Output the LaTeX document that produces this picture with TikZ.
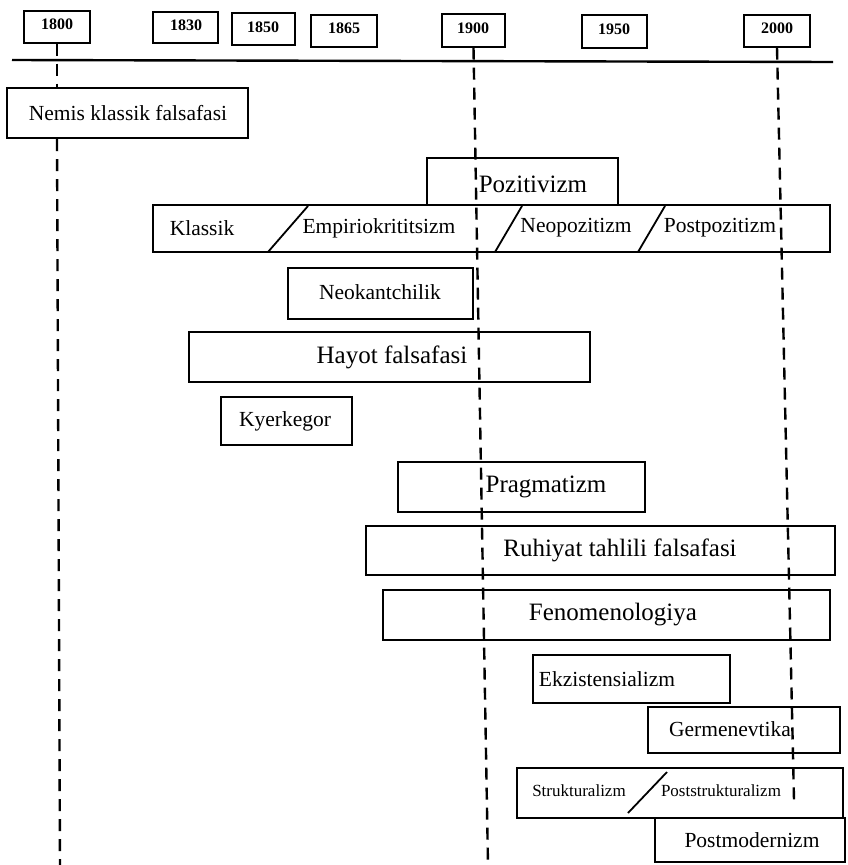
\documentclass[tikz,border=0pt]{standalone}
\usepackage{fontspec}
\setmainfont{Liberation Serif}
\usetikzlibrary{fit}
\tikzset{
  yearbox/.style={draw, line width=1.3pt, inner sep=0pt},
  box/.style={draw, line width=2.2pt, inner sep=0pt},
  yr/.style={font=\bfseries\fontsize{16}{18}\selectfont, inner sep=0pt},
  bigtxt/.style={font=\fontsize{25}{28}\selectfont, inner sep=0pt},
  midtxt/.style={font=\fontsize{21.5}{24}\selectfont, inner sep=0pt},
  smltxt/.style={font=\fontsize{17}{20}\selectfont, inner sep=0pt},
  era/.style={line width=2.4pt, dash pattern=on 12pt off 8pt},
  slashline/.style={line width=1.8pt},
  axisline/.style={line width=2.4pt},
}
\begin{document}
\begin{tikzpicture}[x=1pt,y=-1pt]
\useasboundingbox (0,0) rectangle (847,865);

% year boxes
\node[yearbox, fit={(24,11) (90,43)}] (y1800) {};
\node[yearbox, fit={(153,12) (218,43)}] (y1830) {};
\node[yearbox, fit={(232,13) (295,45)}] (y1850) {};
\node[yearbox, fit={(311,15) (377,47)}] (y1865) {};
\node[yearbox, fit={(442,14) (505,47)}] (y1900) {};
\node[yearbox, fit={(582,15) (647,48)}] (y1950) {};
\node[yearbox, fit={(744,15) (810,47)}] (y2000) {};
\node[yr] (t1800) at (57,24) {1800};
\node[yr] (t1830) at (186,25) {1830};
\node[yr] (t1850) at (263,27) {1850};
\node[yr] (t1865) at (344,28) {1865};
\node[yr] (t1900) at (473,28) {1900};
\node[yr] (t1950) at (614,29) {1950};
\node[yr] (t2000) at (777,28) {2000};

% time axis
\coordinate (tl1) at (12,60);
\coordinate (tl2) at (833,62);
\draw[axisline] (tl1) -- (tl2);

% boxes
\node[box, fit={(7,88) (248,138)}] (nemis) {};
\node[midtxt] (tnemis) at (128,113) {Nemis klassik falsafasi};

\node[box, fit={(427,158) (618,205)}] (poz) {};
\node[bigtxt] (tpoz) at (533,184) {Pozitivizm};
\node[box, fit={(153,205) (830,252)}] (pozrow) {};
\node[midtxt] (tkl) at (202,228) {Klassik};
\node[midtxt] (temp) at (379,228) {Empiriokrititsizm};
\node[midtxt] (tneo) at (576,228) {Neopozitizm};
\node[midtxt] (tpost) at (720,228) {Postpozitizm};
\coordinate (s1a) at (268,252); \coordinate (s1b) at (308,206);
\coordinate (s2a) at (495,252); \coordinate (s2b) at (522,206);
\coordinate (s3a) at (638,252); \coordinate (s3b) at (665,206);
\draw[slashline] (s1a) -- (s1b);
\draw[slashline] (s2a) -- (s2b);
\draw[slashline] (s3a) -- (s3b);

\node[box, fit={(288,268) (473,319)}] (neok) {};
\node[midtxt] (tneok) at (380,292) {Neokantchilik};

\node[box, fit={(189,332) (590,382)}] (hayot) {};
\node[bigtxt] (thayot) at (392,357) {Hayot falsafasi};

\node[box, fit={(221,397) (352,445)}] (kyer) {};
\node[midtxt] (tkyer) at (285,421) {Kyerkegor};

\node[box, fit={(398,462) (645,512)}] (prag) {};
\node[bigtxt] (tprag) at (546,487) {Pragmatizm};

\node[box, fit={(366,526) (835,575)}] (ruh) {};
\node[bigtxt] (truh) at (620,550) {Ruhiyat tahlili falsafasi};

\node[box, fit={(383,590) (830,640)}] (feno) {};
\node[bigtxt] (tfeno) at (613,615) {Fenomenologiya};

\node[box, fit={(533,655) (730,703)}] (ekz) {};
\node[midtxt] (tekz) at (607,679) {Ekzistensializm};

\node[box, fit={(648,707) (840,753)}] (germ) {};
\node[midtxt] (tgerm) at (730,729) {Germenevtika};

\node[box, fit={(517,768) (843,818)}] (struk) {};
\node[smltxt] (tstruk) at (579,791) {Strukturalizm};
\node[smltxt] (tpstruk) at (721,791) {Poststrukturalizm};
\coordinate (s4a) at (628,813); \coordinate (s4b) at (667,772);
\draw[slashline] (s4a) -- (s4b);

\node[box, fit={(655,818) (845,862)}] (pmod) {};
\node[midtxt] (tpmod) at (752,840) {Postmodernizm};

% era lines
\coordinate (b1800) at (60,865);
\coordinate (b1900) at (488,865);
\coordinate (b2000) at (794,800);
\draw[era] (y1800.south) -- (y1800.south |- nemis.north);
\draw[era] (nemis.south -| y1800.south) -- (b1800);
\draw[era] (y1900.south) -- (b1900);
\draw[era] (y2000.south) -- (b2000);
\end{tikzpicture}
\end{document}
